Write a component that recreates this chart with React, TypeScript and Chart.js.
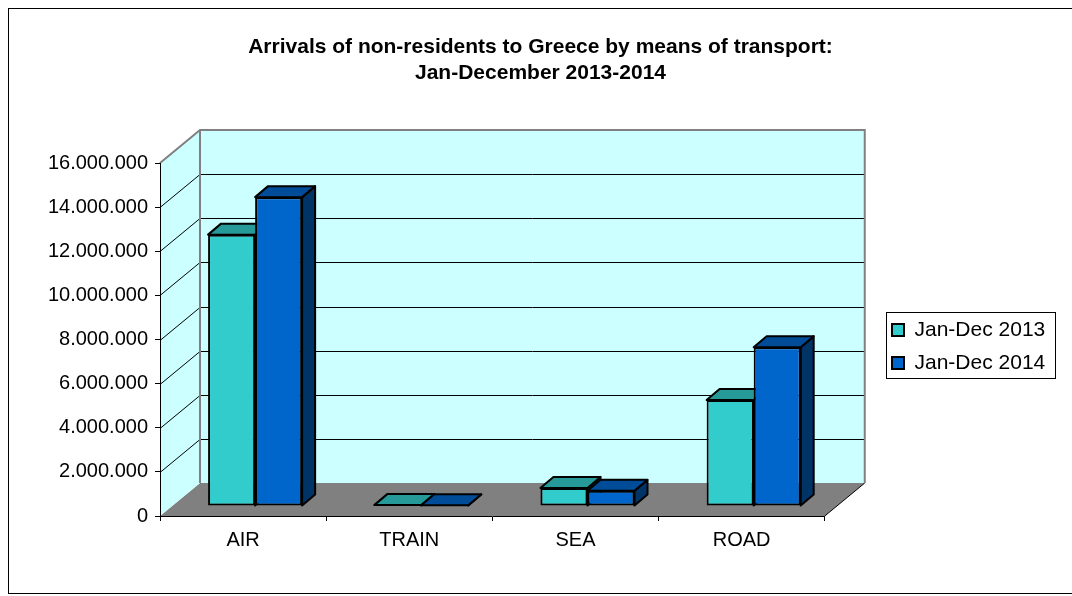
import React, { useEffect, useRef } from 'react';
import { Chart, registerables } from 'chart.js';

Chart.register(...registerables);

// ---------------- data ----------------
const categories = ['AIR', 'TRAIN', 'SEA', 'ROAD'];
const seriesLabels = ['Jan-Dec 2013', 'Jan-Dec 2014'];
const values2013 = [12300000, 40000, 820000, 4800000];
const values2014 = [14000000, 30000, 690000, 7200000];
const yMin = 0;
const yMax = 16000000;
const yStep = 2000000;
const titleLines = [
  'Arrivals of non-residents to Greece by means of transport:',
  'Jan-December 2013-2014',
];

// ---------------- style ----------------
const FONT = "'Liberation Sans', Arial, sans-serif";
const frontColors = ['#33CCCC', '#0066CC'];
const topColors = ['#269999', '#004C99'];
const sideColors = ['#1F7A7A', '#003366'];
const WALL = '#CCFFFF';
const FLOOR = '#808080';
// 3D depth vectors (pixels)
const DEPTH_X = 40;
const DEPTH_Y = -33;
const BAR_SHIFT_X = 12;
const BAR_SHIFT_Y = -10;
const BAR_DEPTH_X = 13;
const BAR_DEPTH_Y = -11;
const LEGEND_LEFT = 871;
const LEGEND_SHIFT_Y = 7;

const fmt = (v: number) => String(Math.round(v)).replace(/\B(?=(\d{3})+(?!\d))/g, '.');

function poly(ctx: CanvasRenderingContext2D, pts: number[][]) {
  ctx.beginPath();
  ctx.moveTo(pts[0][0], pts[0][1]);
  for (let i = 1; i < pts.length; i++) ctx.lineTo(pts[i][0], pts[i][1]);
  ctx.closePath();
}

const threeD = {
  id: 'threeD',
  afterLayout(chart: any) {
    const lg = chart.legend;
    if (lg) {
      const dx = LEGEND_LEFT - lg.left;
      lg.left += dx;
      lg.right += dx;
      lg.top += LEGEND_SHIFT_Y;
      lg.bottom += LEGEND_SHIFT_Y;
    }
    const tb = chart.titleBlock;
    if (tb) {
      tb.left = 0;
      tb.right = chart.width;
      tb.width = chart.width;
    }
  },
  beforeDraw(chart: any) {
    const { ctx, chartArea: a, scales } = chart;
    const y = scales.y;
    const L = a.left;
    const R = a.right;
    const T = y.getPixelForValue(yMax);
    const B = y.getPixelForValue(yMin);
    const dx = DEPTH_X;
    const dy = DEPTH_Y;
    ctx.save();
    // floor
    poly(ctx, [[L, B], [R, B], [R + dx, B + dy], [L + dx, B + dy]]);
    ctx.fillStyle = FLOOR;
    ctx.fill();
    // side wall
    poly(ctx, [[L, T], [L + dx, T + dy], [L + dx, B + dy], [L, B]]);
    ctx.fillStyle = WALL;
    ctx.fill();
    // back wall
    ctx.fillRect(L + dx, T + dy, R - L, B - T);
    // gridlines
    ctx.strokeStyle = '#000';
    ctx.lineWidth = 1;
    y.ticks.forEach((t: any) => {
      if (t.value <= yMin || t.value >= yMax) return;
      const py = Math.round(y.getPixelForValue(t.value)) + 0.5;
      ctx.beginPath();
      ctx.moveTo(L, py);
      ctx.lineTo(L + dx, py + dy);
      ctx.lineTo(R + dx, py + dy);
      ctx.stroke();
    });
    // floor right edge
    ctx.beginPath();
    ctx.moveTo(R, B);
    ctx.lineTo(R + dx, B + dy);
    ctx.stroke();
    // wall outlines
    ctx.strokeStyle = '#808080';
    ctx.lineWidth = 2;
    ctx.beginPath();
    ctx.moveTo(L, T);
    ctx.lineTo(L + dx, T + dy);
    ctx.lineTo(R + dx, T + dy);
    ctx.lineTo(R + dx, B + dy);
    ctx.stroke();
    ctx.beginPath();
    ctx.moveTo(L + dx, T + dy);
    ctx.lineTo(L + dx, B + dy);
    ctx.stroke();
    ctx.restore();
  },
  beforeDatasetsDraw(chart: any) {
    const ctx = chart.ctx;
    ctx.save();
    ctx.translate(BAR_SHIFT_X, BAR_SHIFT_Y);
    const n = chart.data.labels.length;
    const nd = chart.data.datasets.length;
    for (let i = 0; i < n; i++) {
      for (let d = 0; d < nd; d++) {
        const el = chart.getDatasetMeta(d).data[i];
        if (!el) continue;
        const { x, y, base, width } = el.getProps(['x', 'y', 'base', 'width'], true);
        const l = x - width / 2;
        const r = x + width / 2;
        const top = Math.min(y, base);
        const bot = Math.max(y, base);
        ctx.lineWidth = 2;
        ctx.strokeStyle = '#000';
        ctx.lineJoin = 'round';
        // side face
        poly(ctx, [[r, top], [r + BAR_DEPTH_X, top + BAR_DEPTH_Y], [r + BAR_DEPTH_X, bot + BAR_DEPTH_Y], [r, bot]]);
        ctx.fillStyle = sideColors[d];
        ctx.fill();
        ctx.stroke();
        // top face
        poly(ctx, [[l, top], [r, top], [r + BAR_DEPTH_X, top + BAR_DEPTH_Y], [l + BAR_DEPTH_X, top + BAR_DEPTH_Y]]);
        ctx.fillStyle = topColors[d];
        ctx.fill();
        ctx.stroke();
      }
    }
  },
  afterDatasetsDraw(chart: any) {
    chart.ctx.restore();
  },
  afterDraw(chart: any) {
    const lg = chart.legend;
    if (!lg || !lg.columnSizes || !lg.columnSizes.length) return;
    const pad = lg.options.labels.padding;
    const y0 = (lg.top + pad + lg.bottom - lg.columnSizes[0].height) / 2;
    const ctx = chart.ctx;
    ctx.save();
    ctx.strokeStyle = '#000';
    ctx.lineWidth = 1;
    const x1 = Math.round(lg.left + pad - 6) + 0.5;
    const x2 = Math.round(lg.left + lg.width) + 0.5;
    const y1 = Math.round(y0 - 8) + 0.5;
    const y2 = Math.round(y0 + 58) + 0.5;
    ctx.strokeRect(x1, y1, x2 - x1, y2 - y1);
    ctx.restore();
  },
};

export default function App() {
  const ref = useRef<HTMLCanvasElement>(null);
  useEffect(() => {
    Chart.defaults.font.family = FONT;
    Chart.defaults.color = '#000';
    const chart = new Chart(ref.current as HTMLCanvasElement, {
      type: 'bar',
      data: {
        labels: categories,
        datasets: [
          {
            label: seriesLabels[0],
            data: values2013,
            backgroundColor: frontColors[0],
            borderColor: '#000',
            borderWidth: 2,
            borderSkipped: false,
            barPercentage: 1,
            categoryPercentage: 0.566,
            clip: false as any,
          },
          {
            label: seriesLabels[1],
            data: values2014,
            backgroundColor: frontColors[1],
            borderColor: '#000',
            borderWidth: 2,
            borderSkipped: false,
            barPercentage: 1,
            categoryPercentage: 0.566,
            clip: false as any,
          },
        ],
      },
      options: {
        animation: false,
        responsive: true,
        maintainAspectRatio: false,
        layout: { padding: { left: 0, right: 72, top: 0, bottom: 0 } },
        plugins: {
          title: {
            display: true,
            text: titleLines,
            color: '#000',
            font: { family: FONT, size: 21, weight: 'bold', lineHeight: 26 / 21 },
            padding: { top: 25, bottom: 77 },
          },
          legend: {
            position: 'right',
            fullSize: false,
            labels: {
              boxWidth: 12,
              boxHeight: 12,
              padding: 12,
              color: '#000',
              font: { family: FONT, size: 21 },
            },
          },
          tooltip: { enabled: false },
        },
        scales: {
          x: {
            offset: true,
            grid: { offset: true, drawOnChartArea: false, drawTicks: true, tickLength: 5, color: '#000' },
            border: { display: true, color: '#000', width: 1 },
            ticks: { color: '#000', font: { family: FONT, size: 20 }, padding: 7, maxRotation: 0, autoSkip: false },
            afterFit: (s: any) => { s.height = 77; },
          },
          y: {
            min: yMin,
            max: yMax,
            grid: { drawOnChartArea: false, drawTicks: true, tickLength: 5, color: '#000' },
            border: { display: true, color: '#000', width: 1 },
            ticks: {
              stepSize: yStep,
              color: '#000',
              font: { family: FONT, size: 20 },
              padding: 7,
              callback: (v: any) => fmt(Number(v)),
            },
            afterFit: (s: any) => { s.width = 151; },
          },
        },
      },
      plugins: [threeD],
    });
    return () => chart.destroy();
  }, []);
  return (
    <div
      style={{
        position: 'absolute',
        left: 8,
        top: 8,
        width: 1064,
        height: 586,
        boxSizing: 'border-box',
        borderLeft: '1px solid #000',
        borderTop: '1px solid #000',
        borderBottom: '1px solid #000',
        background: '#fff',
      }}
    >
      <div style={{ position: 'relative', width: '100%', height: '100%' }}>
        <canvas ref={ref} />
      </div>
    </div>
  );
}
